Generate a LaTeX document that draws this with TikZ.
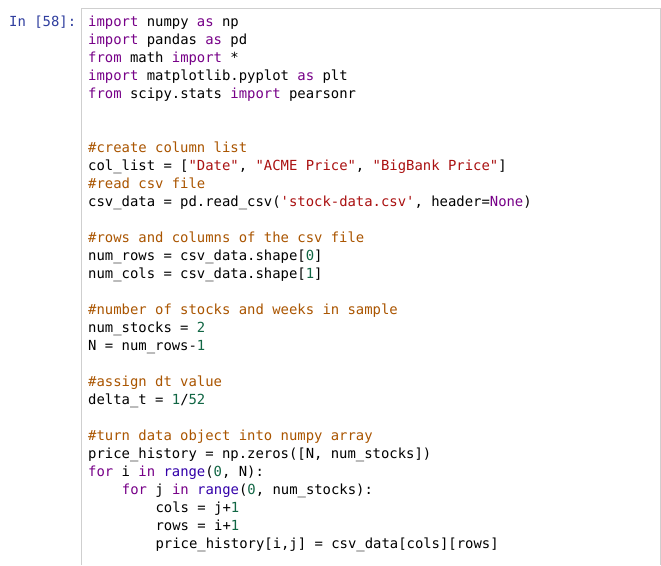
\documentclass[tikz,border=0pt]{standalone}
\usepackage{fontspec}
\setmonofont{DejaVu Sans Mono}
\definecolor{kw}{HTML}{770088}
\definecolor{cm}{HTML}{AA5500}
\definecolor{st}{HTML}{AA1111}
\definecolor{nm}{HTML}{116644}
\definecolor{bi}{HTML}{3300AA}
\definecolor{pr}{HTML}{303F9F}
\definecolor{bd}{HTML}{CFCFCF}
\newcommand\K[1]{\textcolor{kw}{#1}}
\newcommand\C[1]{\textcolor{cm}{#1}}
\newcommand\Sg[1]{\textcolor{st}{#1}}
\newcommand\Nm[1]{\textcolor{nm}{#1}}
\newcommand\B[1]{\textcolor{bi}{#1}}
\begin{document}
\begin{tikzpicture}[x=1pt,y=-1pt,
  code/.style={anchor=base west,inner sep=0pt,font=\ttfamily\fontsize{13.9}{16}\selectfont}]
\useasboundingbox (0,0) rectangle (661,565);
\fill[white] (0,0) rectangle (661,565);
\draw[bd] (81,565) -- (81,8.5) -- (660,8.5) -- (660,565);
\node[code,text=pr] (prompt) at (9,26) {In [58]:};
\def\ind{33.7}
\node[code] (l1) at (88,26) {\K{import} numpy \K{as} np};
\node[code] (l2) at (88,44) {\K{import} pandas \K{as} pd};
\node[code] (l3) at (88,62) {\K{from} math \K{import} *};
\node[code] (l4) at (88,80) {\K{import} matplotlib.pyplot \K{as} plt};
\node[code] (l5) at (88,98) {\K{from} scipy.stats \K{import} pearsonr};
\node[code] (l6) at (88,152) {\C{\#create column list}};
\node[code] (l7) at (88,170) {col\_list = [\Sg{"Date"}, \Sg{"ACME Price"}, \Sg{"BigBank Price"}]};
\node[code] (l8) at (88,188) {\C{\#read csv file}};
\node[code] (l9) at (88,206) {csv\_data = pd.read\_csv(\Sg{'stock-data.csv'}, header=\K{None})};
\node[code] (l10) at (88,242) {\C{\#rows and columns of the csv file}};
\node[code] (l11) at (88,260) {num\_rows = csv\_data.shape[\Nm{0}]};
\node[code] (l12) at (88,278) {num\_cols = csv\_data.shape[\Nm{1}]};
\node[code] (l13) at (88,314) {\C{\#number of stocks and weeks in sample}};
\node[code] (l14) at (88,332) {num\_stocks = \Nm{2}};
\node[code] (l15) at (88,350) {N = num\_rows-\Nm{1}};
\node[code] (l16) at (88,386) {\C{\#assign dt value}};
\node[code] (l17) at (88,404) {delta\_t = \Nm{1}/\Nm{52}};
\node[code] (l18) at (88,440) {\C{\#turn data object into numpy array}};
\node[code] (l19) at (88,458) {price\_history = np.zeros([N, num\_stocks])};
\node[code] (l20) at (88,476) {\K{for} i \K{in} \B{range}(\Nm{0}, N):};
\node[code] (l21) at (88+\ind,494) {\K{for} j \K{in} \B{range}(\Nm{0}, num\_stocks):};
\node[code] (l22) at (88+2*\ind,512) {cols = j+\Nm{1}};
\node[code] (l23) at (88+2*\ind,530) {rows = i+\Nm{1}};
\node[code] (l24) at (88+2*\ind,548) {price\_history[i,j] = csv\_data[cols][rows]};
\end{tikzpicture}
\end{document}
